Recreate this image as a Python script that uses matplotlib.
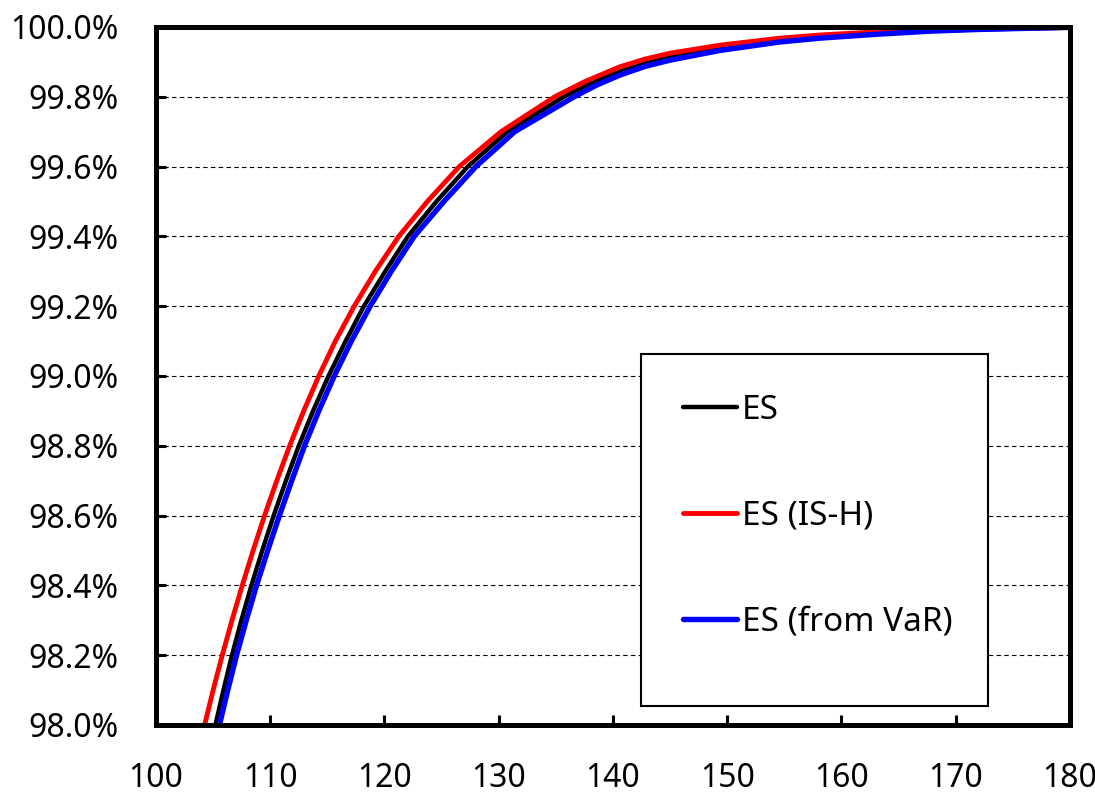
import numpy as np
import matplotlib
matplotlib.use("Agg")
import matplotlib.pyplot as plt
from matplotlib.patches import Rectangle
from matplotlib.ticker import PercentFormatter, MultipleLocator

plt.rcParams['font.family'] = ['Noto Sans', 'DejaVu Sans']

# points: x and confidence level (%)
es_x = [105.2, 105.9, 106.65, 107.47, 108.35, 109.3, 110.3, 111.37, 112.5,
        113.75, 115.1, 116.6, 118.2, 120.07, 122.05, 124.55, 127.3, 130.75,
        135.7, 138.0, 140.6, 142.8, 145.0, 149.4, 154.6, 158.1, 163.0, 167.7,
        172.0, 180.0]
es_y = [98.0, 98.1, 98.2, 98.3, 98.4, 98.5, 98.6, 98.7, 98.8,
        98.9, 99.0, 99.1, 99.2, 99.3, 99.4, 99.5, 99.6, 99.7,
        99.8, 99.838, 99.872, 99.895, 99.913, 99.94, 99.962, 99.972, 99.982, 99.989,
        99.993, 99.998]

ish_x = [104.25, 105.0, 105.8, 106.65, 107.55, 108.5, 109.5, 110.57, 111.7,
         112.93, 114.25, 115.7, 117.35, 119.2, 121.25, 123.75, 126.55, 130.2,
         134.9, 137.5, 140.6, 142.8, 145.0, 149.4, 154.6, 158.1, 163.0, 167.7,
         172.0, 180.0]
ish_y = [98.0, 98.1, 98.2, 98.3, 98.4, 98.5, 98.6, 98.7, 98.8,
         98.9, 99.0, 99.1, 99.2, 99.3, 99.4, 99.5, 99.6, 99.7,
         99.8, 99.843, 99.886, 99.908, 99.925, 99.948, 99.968, 99.977, 99.986, 99.991,
         99.995, 99.999]

var_x = [105.55, 106.28, 107.05, 107.9, 108.8, 109.78, 110.8, 111.88, 113.0,
         114.25, 115.6, 117.1, 118.75, 120.6, 122.6, 125.2, 128.0, 131.4,
         136.6, 138.6, 140.6, 142.8, 145.0, 149.4, 154.6, 158.1, 163.0, 167.7,
         172.0, 180.0]
var_y = [98.0, 98.1, 98.2, 98.3, 98.4, 98.5, 98.6, 98.7, 98.8,
         98.9, 99.0, 99.1, 99.2, 99.3, 99.4, 99.5, 99.6, 99.7,
         99.8, 99.834, 99.862, 99.887, 99.905, 99.933, 99.957, 99.968, 99.979, 99.988,
         99.993, 99.999]

labels = ["ES", "ES (IS-H)", "ES (from VaR)"]
colors = ["black", "red", "blue"]
widths = [3.2, 3.5, 3.9]

fig = plt.figure(figsize=(10.95, 8.01), dpi=100)
ax = fig.add_axes((0.1425, 0.0949, 0.977 - 0.1425, 0.9663 - 0.0949))

series = [(es_x, es_y), (ish_x, ish_y), (var_x, var_y)]
for (xs, ys), lab, c, w in zip(series, labels, colors, widths):
    ax.plot(xs, ys, color=c, lw=w, label=lab, solid_capstyle='round',
            solid_joinstyle='round')

ax.set_xlim(100, 180)
ax.set_ylim(98.0, 100.0)
ax.xaxis.set_major_locator(MultipleLocator(10))
ax.yaxis.set_major_locator(MultipleLocator(0.2))
ax.yaxis.set_major_formatter(PercentFormatter(decimals=1))

ax.grid(axis='y', color='black', linestyle=(0, (4, 3)), linewidth=0.8)
ax.set_axisbelow(True)

for s in ax.spines.values():
    s.set_linewidth(3.6)
ax.tick_params(direction='in', length=7, width=2.2, labelsize=23, pad=27)

# legend box drawn separately, it has more room below the last entry
box = Rectangle((641 / 1095, 1 - 706 / 801), 347 / 1095, 352 / 801,
                transform=fig.transFigure, facecolor='white',
                edgecolor='black', linewidth=1.5, zorder=3)
fig.patches.append(box)

handles, labs = ax.get_legend_handles_labels()
leg = fig.legend(handles, labs, loc='center left',
                 bbox_to_anchor=(683 / 1095, 1 - 516 / 801), fontsize=24,
                 frameon=False, borderpad=0, labelspacing=2.18,
                 handlelength=1.62, handletextpad=0.15, borderaxespad=0)
leg.set_zorder(5)

fig.savefig("out.png", dpi=100)
